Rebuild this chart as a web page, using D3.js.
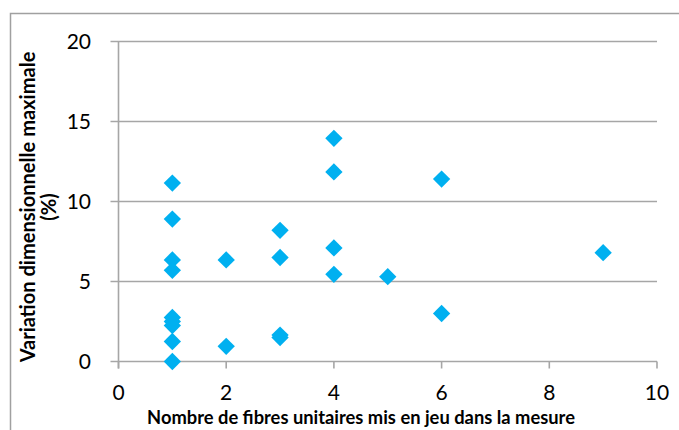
<!DOCTYPE html>
<html>
<head>
<meta charset="utf-8">
<script src="https://cdn.jsdelivr.net/npm/d3@7"></script>
<style>
  html, body { margin: 0; padding: 0; background: #fff; }
  svg { display: block; }
  text { font-family: Lato, "Open Sans", sans-serif; fill: #000; }
</style>
</head>
<body>
<svg id="chart" width="679" height="430"></svg>
<script>
// Number of unit fibres per measurement, and the maximum dimensional variation (%)
const fibres = [1, 1, 1, 1, 1, 1, 1, 1, 1,
                2, 2,
                3, 3, 3, 3,
                4, 4, 4, 4,
                5,
                6, 6,
                9];
const variation = [11.15, 8.9, 6.35, 5.7, 2.75, 2.5, 2.25, 1.25, 0,
                   6.35, 0.95,
                   8.2, 6.5, 1.65, 1.5,
                   13.95, 11.85, 7.1, 5.45,
                   5.3,
                   11.4, 3.0,
                   6.8];
const xTicks = [0, 2, 4, 6, 8, 10];
const yTicks = [0, 5, 10, 15, 20];
const xTitle = "Nombre de fibres unitaires mis en jeu dans la mesure";
const yTitleLines = ["Variation dimensionnelle maximale", "(%)"];

const svg = d3.select("#chart");
const gridColor = "#a6a6a6";

// outer chart frame
svg.append("path")
  .attr("d", "M10.5,440 L10.5,13.5 L690,13.5")
  .attr("fill", "none").attr("stroke", "#a0a0a0").attr("stroke-width", 1.5);

const x = d3.scaleLinear().domain([0, 10]).range([118.5, 657]);
const y = d3.scaleLinear().domain([0, 20]).range([361.5, 41.5]);

// horizontal gridlines (with their tick stubs to the left of the axis)
svg.append("g").selectAll("line").data(yTicks).join("line")
  .attr("x1", x(0) - 8).attr("x2", x(10))
  .attr("y1", d => y(d)).attr("y2", d => y(d))
  .attr("stroke", gridColor).attr("stroke-width", 1.6);

// vertical axis line
svg.append("line")
  .attr("x1", x(0)).attr("x2", x(0))
  .attr("y1", y(20)).attr("y2", y(0) + 7)
  .attr("stroke", gridColor).attr("stroke-width", 1.6);

// x ticks
svg.append("g").selectAll("line").data(xTicks).join("line")
  .attr("x1", d => x(d)).attr("x2", d => x(d))
  .attr("y1", y(0)).attr("y2", y(0) + 7)
  .attr("stroke", gridColor).attr("stroke-width", 1.6);

// tick labels
svg.append("g").selectAll("text").data(yTicks).join("text")
  .attr("x", 91).attr("y", d => y(d))
  .attr("dy", "0.36em")
  .attr("text-anchor", "end")
  .attr("font-size", 21)
  .text(d => d);

svg.append("g").selectAll("text").data(xTicks).join("text")
  .attr("x", d => x(d)).attr("y", 392)
  .attr("dy", "0.36em")
  .attr("text-anchor", "middle")
  .attr("font-size", 21)
  .text(d => d);

// axis titles
const xt = svg.append("text")
  .attr("x", 361).attr("y", 424)
  .attr("text-anchor", "middle")
  .attr("font-weight", "bold")
  .attr("font-size", 15)
  .text(xTitle);
// size the title so it spans its slot
const xw = xt.node().getComputedTextLength();
xt.attr("font-size", 15 * 428 / xw);

const yt = svg.append("g").attr("transform", "translate(0,207) rotate(-90)");
yt.selectAll("text").data(yTitleLines).join("text")
  .attr("x", 0).attr("y", (d, i) => 35 + i * 21)
  .attr("text-anchor", "middle")
  .attr("font-weight", "bold")
  .attr("font-size", 15)
  .text(d => d);
const yw = yt.select("text").node().getComputedTextLength();
yt.selectAll("text").attr("font-size", 15 * 311 / yw);

// markers: diamonds
const pts = fibres.map((f, i) => ({ f, v: variation[i] }));
const diamond = d3.symbol(d3.symbolSquare, 150);
svg.append("g").selectAll("path").data(pts).join("path")
  .attr("d", diamond)
  .attr("transform", d => `translate(${x(d.f)},${y(d.v)}) rotate(45)`)
  .attr("fill", "#00b0f0");
</script>
</body>
</html>
